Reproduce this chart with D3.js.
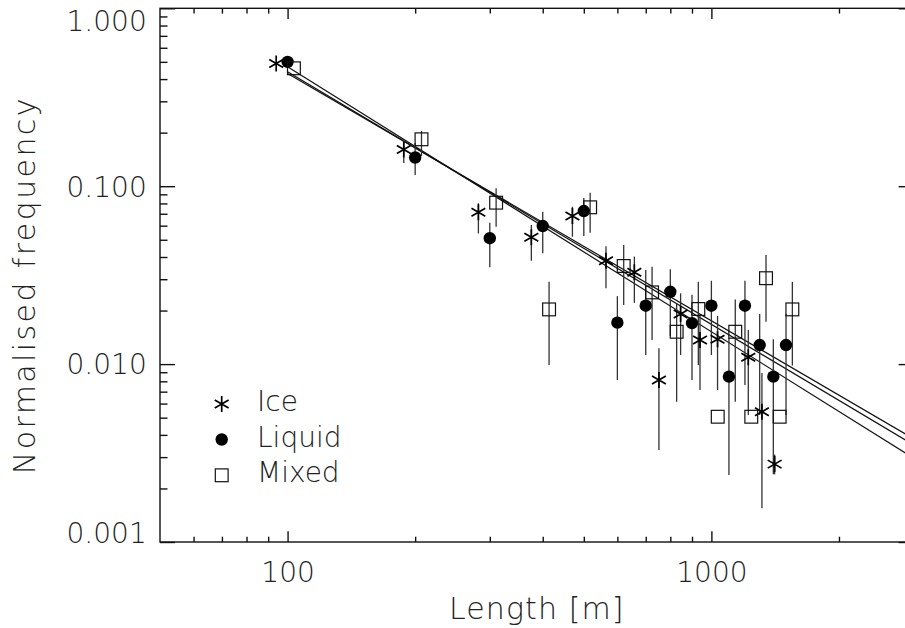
<!DOCTYPE html>
<html>
<head>
<meta charset="utf-8">
<script src="https://cdn.jsdelivr.net/npm/d3@7"></script>
<style>
  body { margin: 0; background: #fff; }
  svg { display: block; }
  text { font-family: "DejaVu Sans", sans-serif; font-weight: 200; fill: #222; }
</style>
</head>
<body>
<svg id="chart" width="905" height="628"></svg>
<script>
// Bin lengths [m]
const lengths = [100, 200, 300, 400, 500, 600, 700, 800, 900, 1000, 1100, 1200, 1300, 1400, 1500];

// Normalised frequency per bin, with error-bar ends (null = not drawn)
const iceFreq  = [0.49, 0.161, 0.0714, 0.0516, 0.068, 0.0381, 0.0328, 0.00814, 0.0191, 0.01366, 0.01378, null, 0.01092, 0.0054, 0.00274];
const iceLow   = [null, 0.135, 0.0543, 0.0381, 0.052, 0.0267, 0.0221, 0.00329, 0.01125, 0.00715, 0.00715, null, 0.00518, 0.00155, 0.0024];
const iceHigh  = [null, 0.182, 0.0801, 0.0605, 0.0767, 0.0459, 0.0402, 0.01227, 0.025, 0.019, 0.01864, null, 0.01555, 0.0089, 0.0031];

const liquidFreq = [0.50, 0.145, 0.051, 0.0597, 0.0725, 0.0171, 0.0213, 0.0255, 0.017, 0.0213, 0.0085, 0.0213, 0.0128, 0.0085, 0.0128];
const liquidLow  = [null, 0.1156, 0.035, 0.042, 0.0525, 0.00814, 0.01125, 0.0144, 0.00814, 0.01125, 0.00238, 0.00763, 0.00518, 0.0024, 0.00518];
const liquidHigh = [null, 0.175, 0.0623, 0.0719, 0.0859, 0.0241, 0.0338, 0.0341, 0.0245, 0.0294, 0.014, 0.0294, 0.0191, 0.0138, 0.0191];

const mixedFreq = [0.46, 0.1835, 0.0808, 0.0203, 0.0761, 0.0356, 0.0253, 0.0152, 0.0204, 0.00506, 0.0152, 0.00506, 0.0304, 0.00506, 0.0203];
const mixedLow  = [null, 0.148, 0.0592, 0.00988, 0.0548, 0.0215, 0.01366, 0.00614, 0.00988, null, 0.00614, null, 0.0173, null, 0.00981];
const mixedHigh = [null, 0.204, 0.0973, 0.029, 0.0919, 0.0467, 0.0353, 0.022, 0.029, null, 0.0231, null, 0.0411, null, 0.029];

// Power-law fits: frequency at 100 m and exponent
const fitNames = ["Ice", "Liquid", "Mixed"];
const fitAt100 = [0.47, 0.44, 0.43];
const fitSlope = [-1.49, -1.42, -1.39];

// Axis ticks
const xMajor = [100, 1000];
const xMinor = [60, 70, 80, 90, 200, 300, 400, 500, 600, 700, 800, 900, 2000, 3000];
const yMajor = [0.001, 0.01, 0.1, 1];
const yMajorLabels = ["0.001", "0.010", "0.100", "1.000"];
const yMinor = [2,3,4,5,6,7,8,9].flatMap(m => [m * 0.001, m * 0.01, m * 0.1]);

const legendNames = ["Ice", "Liquid", "Mixed"];

const svg = d3.select("#chart");
const X0 = 160, X1 = 913.6, Y0 = 542, Y1 = 8.3;
const x = d3.scaleLog().domain([50, 3000]).range([X0, X1]);
const y = d3.scaleLog().domain([0.001, 1]).range([Y0, Y1]);

svg.append("defs").append("clipPath").attr("id", "plotClip")
  .append("rect").attr("x", X0).attr("y", Y1).attr("width", X1 - X0).attr("height", Y0 - Y1);

// Frame
svg.append("rect").attr("x", X0).attr("y", Y1).attr("width", X1 - X0).attr("height", Y0 - Y1)
  .attr("fill", "none").attr("stroke", "#111").attr("stroke-width", 1.4);

function tickAxis(axis, g) {
  g.call(axis);
  g.select(".domain").remove();
  g.selectAll(".tick line").attr("stroke", "#111").attr("stroke-width", 1.4);
}

// Bottom axis
const gB = svg.append("g").attr("transform", `translate(0,${Y0})`);
tickAxis(d3.axisBottom(x).tickValues(xMajor).tickSizeInner(-10.7).tickSizeOuter(0).tickPadding(19.8).tickFormat(d3.format("d")), gB);
gB.selectAll("text").attr("font-size", 28).style("font-family", "DejaVu Sans").style("font-weight", 200).attr("fill", "#222");
tickAxis(d3.axisBottom(x).tickValues(xMinor).tickSizeInner(-5.3).tickSizeOuter(0).tickFormat(""), svg.append("g").attr("transform", `translate(0,${Y0})`));

// Top axis
tickAxis(d3.axisTop(x).tickValues(xMajor).tickSizeInner(-10.7).tickSizeOuter(0).tickFormat(""), svg.append("g").attr("transform", `translate(0,${Y1})`));
tickAxis(d3.axisTop(x).tickValues(xMinor).tickSizeInner(-5.3).tickSizeOuter(0).tickFormat(""), svg.append("g").attr("transform", `translate(0,${Y1})`));

// Left axis
const gL = svg.append("g").attr("transform", `translate(${X0},0)`);
tickAxis(d3.axisLeft(y).tickValues(yMajor).tickSizeInner(-15).tickSizeOuter(0).tickPadding(13.3)
  .tickFormat((d, i) => yMajorLabels[i]), gL);
gL.selectAll("text").attr("font-size", 28).style("font-family", "DejaVu Sans").style("font-weight", 200).attr("fill", "#222");
// keep end labels inside the frame height
gL.selectAll(".tick text").attr("dy", d => d === 1 ? "0.80em" : d === 0.001 ? "0.00em" : "0.35em");
tickAxis(d3.axisLeft(y).tickValues(yMinor).tickSizeInner(-7.5).tickSizeOuter(0).tickFormat(""), svg.append("g").attr("transform", `translate(${X0},0)`));

// Right axis
tickAxis(d3.axisRight(y).tickValues(yMajor).tickSizeInner(-15).tickSizeOuter(0).tickFormat(""), svg.append("g").attr("transform", `translate(${X1},0)`));
tickAxis(d3.axisRight(y).tickValues(yMinor).tickSizeInner(-7.5).tickSizeOuter(0).tickFormat(""), svg.append("g").attr("transform", `translate(${X1},0)`));

// Axis titles
svg.append("text").attr("x", (X0 + X1) / 2).attr("y", 619).attr("text-anchor", "middle")
  .attr("font-size", 30).attr("letter-spacing", 1.1).text("Length [m]");
svg.append("text").attr("transform", `translate(35,${(Y0 + Y1) / 2 + 10}) rotate(-90)`).attr("text-anchor", "middle")
  .attr("font-size", 30).attr("letter-spacing", 2.4).text("Normalised frequency");

const plot = svg.append("g").attr("clip-path", "url(#plotClip)");

// Fit lines
const fitLine = d3.line().x(d => x(d[0])).y(d => y(d[1]));
fitNames.forEach((name, i) => {
  const pts = [100, 3000].map(L => [L, fitAt100[i] * Math.pow(L / 100, fitSlope[i])]);
  plot.append("path").attr("d", fitLine(pts)).attr("fill", "none").attr("stroke", "#111").attr("stroke-width", 1.2);
});

// Symbols
const R = 8;
function asterisk(g, cx, cy, r) {
  const a = Math.PI / 6;
  const p = `M${cx},${cy - r}L${cx},${cy + r}` +
    `M${cx - r * Math.cos(a)},${cy - r * Math.sin(a)}L${cx + r * Math.cos(a)},${cy + r * Math.sin(a)}` +
    `M${cx - r * Math.cos(a)},${cy + r * Math.sin(a)}L${cx + r * Math.cos(a)},${cy - r * Math.sin(a)}`;
  g.append("path").attr("d", p).attr("stroke", "#000").attr("stroke-width", 1.7).attr("fill", "none");
}
function dot(g, cx, cy) {
  g.append("circle").attr("cx", cx).attr("cy", cy).attr("r", 6.2).attr("fill", "#000");
}
function square(g, cx, cy) {
  g.append("rect").attr("x", cx - 6.4).attr("y", cy - 6.4).attr("width", 12.8).attr("height", 12.8)
    .attr("fill", "none").attr("stroke", "#111").attr("stroke-width", 1.2);
}

const seriesList = [
  { freq: iceFreq, low: iceLow, high: iceHigh, dodge: 0.94, draw: (g, cx, cy) => asterisk(g, cx, cy, R) },
  { freq: liquidFreq, low: liquidLow, high: liquidHigh, dodge: 1.0, draw: dot },
  { freq: mixedFreq, low: mixedLow, high: mixedHigh, dodge: 1.035, draw: square }
];

// Error bars
seriesList.forEach(s => {
  lengths.forEach((L, i) => {
    if (s.freq[i] == null || s.low[i] == null) return;
    plot.append("line").attr("x1", x(L * s.dodge)).attr("x2", x(L * s.dodge))
      .attr("y1", y(s.low[i])).attr("y2", y(s.high[i]))
      .attr("stroke", "#333").attr("stroke-width", 1.3);
  });
});
// Markers
seriesList.forEach(s => {
  lengths.forEach((L, i) => {
    if (s.freq[i] == null) return;
    s.draw(plot, x(L * s.dodge), y(s.freq[i]));
  });
});

// Legend
const legendY = [404, 439.5, 475.3];
legendNames.forEach((name, i) => {
  seriesList[i].draw(svg, 221.7, legendY[i]);
  svg.append("text").attr("x", 257).attr("y", legendY[i] + 7).attr("font-size", 28).text(name);
});
</script>
</body>
</html>
